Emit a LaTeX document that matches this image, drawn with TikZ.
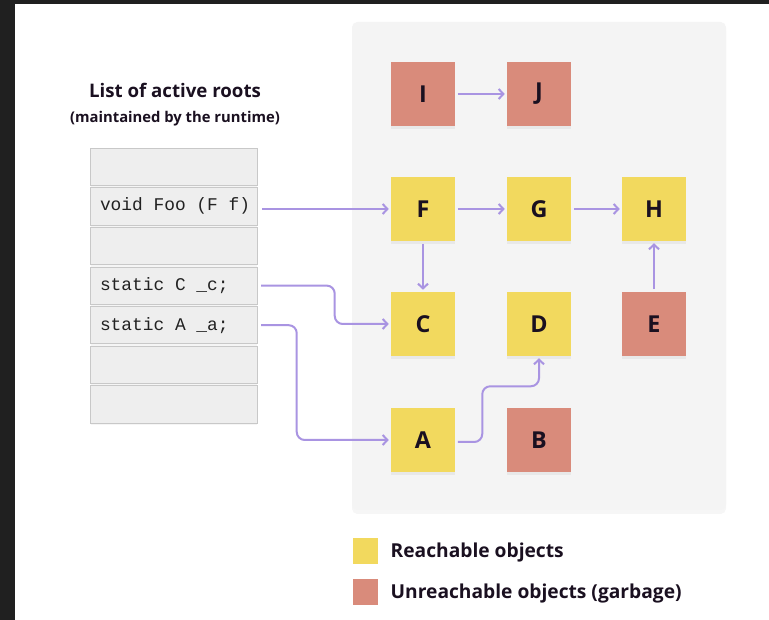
\documentclass[tikz,border=0pt]{standalone}
\usepackage{fontspec}
\setmainfont{Open Sans}
\setmonofont{Liberation Mono}
\usetikzlibrary{shadows,arrows.meta,calc}
\definecolor{framec}{HTML}{202020}
\definecolor{panelc}{HTML}{F4F4F4}
\definecolor{reachc}{HTML}{F2D95E}
\definecolor{garbc}{HTML}{D98B7B}
\definecolor{arrowc}{HTML}{A994E2}
\definecolor{cellc}{HTML}{EEEEEE}
\definecolor{celldraw}{HTML}{C8C8C8}
\definecolor{inkc}{HTML}{1A1020}
\definecolor{codec}{HTML}{222222}
\newcommand\msp{\hbox to 0.6em{}}
\tikzset{
  objbox/.style={minimum size=48pt, inner sep=0pt, font=\fontsize{17.5}{17.5}\selectfont\bfseries, text=inkc,
    drop shadow={shadow xshift=0pt, shadow yshift=-2pt, opacity=0.10}},
  reach/.style={objbox, fill=reachc},
  garb/.style={objbox, fill=garbc},
  cell/.style={fill=cellc, draw=celldraw, line width=0.6pt, minimum width=125pt, minimum height=28pt,
    text width=111pt, inner xsep=7pt, inner ysep=0pt, align=left, text=codec,
    font=\fontsize{13.4}{14}\selectfont\ttfamily,
    drop shadow={shadow xshift=0pt, shadow yshift=-1.5pt, opacity=0.08}},
  ptr/.style={draw=arrowc, line width=1.5pt, -{Straight Barb[length=3.5pt,width=7.5pt]},
    shorten <=2pt, shorten >=1.5pt, rounded corners=6pt},
  legsq/.style={minimum size=19pt, inner sep=0pt},
  legtxt/.style={anchor=west, inner sep=0pt, font=\fontsize{14.4}{15}\selectfont\bfseries, text=inkc}
}
\begin{document}
\begin{tikzpicture}[x=0.75pt,y=-0.75pt]
\useasboundingbox (0,0) rectangle (769,620);
\fill[white] (0,0) rectangle (769,620);
\fill[framec] (0,0) rectangle (769,4);
\fill[framec] (0,0) rectangle (15,620);

% panel
\fill[panelc, rounded corners=4pt, drop shadow={shadow xshift=0pt, shadow yshift=-3pt, opacity=0.07}] (352,22) rectangle (726,510);

% titles
\node[font=\fontsize{14}{14}\selectfont\bfseries, text=inkc] (title) at (175,90) {List of active roots};
\node[font=\fontsize{11.1}{12}\selectfont\bfseries, text=inkc] (subtitle) at (175,119) {(maintained by the runtime)};

% root list
\node[cell] (r1) at (174,166.7) {};
\node[cell] (r2) at (174,206.3) {void\msp Foo\msp (F\msp f)};
\node[cell] (r3) at (174,245.9) {};
\node[cell] (r4) at (174,285.6) {static\msp C\msp \_c;};
\node[cell] (r5) at (174,325.2) {static\msp A\msp \_a;};
\node[cell] (r6) at (174,364.8) {};
\node[cell] (r7) at (174,404.4) {};

% objects
\node[garb]  (I) at (423,94)  {I};
\node[garb]  (J) at (539,94)  {J};
\node[reach] (F) at (423,209) {F};
\node[reach] (G) at (539,209) {G};
\node[reach] (H) at (654,209) {H};
\node[reach] (C) at (423,324) {C};
\node[reach] (D) at (539,324) {D};
\node[garb]  (E) at (654,324) {E};
\node[reach] (A) at (423,440) {A};
\node[garb]  (B) at (539,440) {B};

% connectors
\draw[ptr] (I) -- (J);
\draw[ptr] (F) -- (G);
\draw[ptr] (G) -- (H);
\draw[ptr] (F) -- (C);
\draw[ptr] (E) -- (H);
\draw[ptr, shorten <=3.5pt] (r2.east |- F.west) -- (F.west);
\draw[ptr, shorten <=2.5pt] (r4.east) -| ($(C.west)+(-56,0)$) -- (C.west);
\draw[ptr, shorten <=2.5pt] (r5.east) -| ($(A.west)+(-94,0)$) -- (A.west);
\draw[ptr] ($(A.east)+(0,2)$) -- ($(A.east)+(27,2)$) |- ($(D.south)+(0,30)$) -- (D.south);

% legend
\node[legsq, fill=reachc] (L1) at (365.5,551) {};
\node[legsq, fill=garbc]  (L2) at (365.5,592) {};
\node[legtxt] (L1t) at ($(L1.east)+(12,2)$) {Reachable objects};
\node[legtxt] (L2t) at ($(L2.east)+(12,2)$) {Unreachable objects (garbage)};
\end{tikzpicture}
\end{document}
